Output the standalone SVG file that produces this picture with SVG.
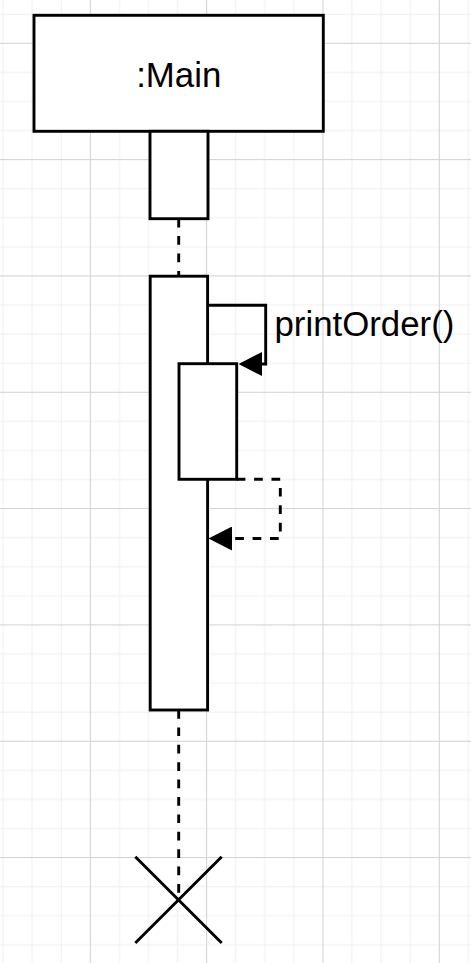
<svg xmlns="http://www.w3.org/2000/svg" width="471" height="963" viewBox="0 0 471 963">
  <style>
    .box { fill: #ffffff; stroke: #000000; stroke-width: 2.9; }
    .lbl { font-family: "Liberation Sans", Arial, Helvetica, sans-serif; font-size: 34.8px; fill: #000000; }
    .line { fill: none; stroke: #000000; stroke-width: 2.9; }
    .dash { stroke-dasharray: 8.7 8.7; }
  </style>
  <defs>
    <pattern id="grid" patternUnits="userSpaceOnUse" x="-26.5" y="-73.5" width="116.32" height="116.32">
      <path d="M29.58,0 V116.32 M58.66,0 V116.32 M87.74,0 V116.32 M0,29.58 H116.32 M0,58.66 H116.32 M0,87.74 H116.32" fill="none" stroke="#f0f0f0" stroke-width="1"/>
      <path d="M0.5,0 V116.32 M0,0.5 H116.32" fill="none" stroke="#d0d0d0" stroke-width="1"/>
    </pattern>
    <marker id="block" markerUnits="userSpaceOnUse" viewBox="0 0 23.5 24" refX="0" refY="12" markerWidth="23.5" markerHeight="24" orient="auto">
      <path d="M0,0 L23.5,12 L0,24 Z" fill="#000000"/>
    </marker>
  </defs>
  <rect x="0" y="0" width="471" height="963" fill="#ffffff"/>
  <rect x="0" y="0" width="471" height="963" fill="url(#grid)"/>

  <g id="connectors">
    <path class="line dash" d="M178.7,218.7 V276"/>
    <path class="line dash" d="M178.7,710 V899.7"/>
    <path id="msg-printOrder" class="line" d="M207.6,305.3 H265.7 V364 H262" marker-end="url(#block)"/>
    <path id="msg-return" class="line dash" d="M236.7,479.3 H280.3 V538.5 H232" marker-end="url(#block)"/>
  </g>

  <g id="node-main">
    <rect class="box" x="34" y="15.3" width="289.3" height="116"/>
    <text class="lbl" x="178.7" y="87.3" text-anchor="middle">:Main</text>
  </g>
  <g id="node-activation-top">
    <rect class="box" x="150" y="131.3" width="58" height="87.4"/>
  </g>
  <g id="node-activation-main">
    <rect class="box" x="150.2" y="276.2" width="57.4" height="433.8"/>
  </g>
  <g id="node-activation-nested">
    <rect class="box" x="179" y="363.7" width="57.7" height="115.6"/>
  </g>
  <g id="label-printOrder">
    <text class="lbl" x="274.5" y="336">printOrder()</text>
  </g>
  <g id="node-destroy">
    <path class="line" d="M135.3,856.7 L221.7,943 M221.7,856.7 L135.3,943"/>
  </g>
</svg>
